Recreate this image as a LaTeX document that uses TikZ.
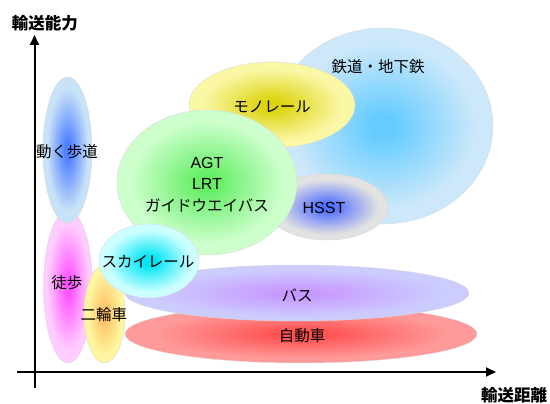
\documentclass[tikz,border=0pt]{standalone}
\usepackage{fontspec}
\setmainfont{Liberation Sans}
\newfontfamily\jp{Noto Sans CJK JP}
\usetikzlibrary{arrows.meta}
\colorlet{innerc}{white}
\colorlet{outerc}{white}
\pgfdeclareradialshading[innerc,outerc]{soft}{\pgfpoint{0bp}{0bp}}{color(0bp)=(innerc); color(3bp)=(innerc); color(11bp)=(innerc!55!outerc); color(21bp)=(outerc); color(50bp)=(outerc)}
\definecolor{railIn}{HTML}{66CCFF}\definecolor{railOut}{HTML}{CCE8FA}
\definecolor{monoIn}{HTML}{DCD410}\definecolor{monoOut}{HTML}{FAF7A5}
\definecolor{agtIn}{HTML}{66EE66}\definecolor{agtOut}{HTML}{CCFFCC}
\definecolor{hsstIn}{HTML}{5570FF}\definecolor{hsstOut}{HTML}{E2E2E2}
\definecolor{mwIn}{HTML}{5080FF}\definecolor{mwOut}{HTML}{C8E2F8}
\definecolor{walkIn}{HTML}{FF55FF}\definecolor{walkOut}{HTML}{FFCCFF}
\definecolor{bikeIn}{HTML}{FFC266}\definecolor{bikeOut}{HTML}{FFF5A0}
\definecolor{skyIn}{HTML}{00E5F5}\definecolor{skyOut}{HTML}{CCFFFF}
\definecolor{carIn}{HTML}{FF5050}\definecolor{carOut}{HTML}{FF9A9A}
\definecolor{busIn}{HTML}{C899FF}\definecolor{busOut}{HTML}{CCCCFF}
\begin{document}
\begin{tikzpicture}[x=1pt,y=-1pt,
  blob/.style 2 args={/utils/exec={\colorlet{innerc}{#1}\colorlet{outerc}{#2}},
    shading=soft, draw=gray!30, line width=0.4pt},
  jlab/.style={font=\jp\fontsize{15.5}{18}\selectfont, inner sep=0pt, text=black},
  llab/.style={font=\fontsize{16}{18}\selectfont, inner sep=0pt, text=black},
  axlab/.style={font=\jp\bfseries\fontsize{16.5}{19}\selectfont, inner sep=0pt},
  axis/.style={line width=2pt, -{Triangle[length=10pt,width=9pt]}}]
\useasboundingbox (0,0) rectangle (550,404);
% ellipses
\shadedraw[blob={railIn}{railOut}] (383,126) ellipse [x radius=110, y radius=98];
\shadedraw[blob={monoIn}{monoOut}] (272,105) ellipse [x radius=83, y radius=43];
\shadedraw[blob={hsstIn}{hsstOut}] (327,207) ellipse [x radius=61, y radius=33];
\shadedraw[blob={agtIn}{agtOut}] (207,182.5) ellipse [x radius=90, y radius=72.5];
\shadedraw[blob={walkIn}{walkOut}] (68,286.5) ellipse [x radius=24.5, y radius=76.5];
\shadedraw[blob={mwIn}{mwOut}] (67.5,150) ellipse [x radius=24.5, y radius=73];
\shadedraw[blob={bikeIn}{bikeOut}] (104.5,314) ellipse [x radius=20.5, y radius=49];
\shadedraw[blob={carIn}{carOut}] (301,334) ellipse [x radius=176, y radius=29];
\shadedraw[blob={busIn}{busOut}] (297,293) ellipse [x radius=172, y radius=28];
\shadedraw[blob={skyIn}{skyOut}] (149,261) ellipse [x radius=50, y radius=37];
% labels
\node[jlab] (rail) at (378,67) {鉄道・地下鉄};
\node[jlab] (mono) at (272,107) {モノレール};
\node[llab] (agt) at (207,163) {AGT};
\node[llab] (lrt) at (207,184) {LRT};
\node[jlab] (gbus) at (207,205) {ガイドウエイバス};
\node[llab] (hsst) at (324,208) {HSST};
\node[jlab] (mw) at (67,152) {動く歩道};
\node[jlab] (walk) at (67,283) {徒歩};
\node[jlab] (bike) at (104,315) {二輪車};
\node[jlab] (sky) at (148,262) {スカイレール};
\node[jlab] (bus) at (297,295) {バス};
\node[jlab] (car) at (302,336) {自動車};
% axes
\coordinate (yb) at (34.5,388);
\coordinate (yt) at (34.5,35);
\coordinate (xl) at (17,372);
\coordinate (xr) at (496,372);
\draw[axis] (yb) -- (yt);
\draw[axis] (xl) -- (xr);
\node[axlab] (ylab) at (45,23) {輸送能力};
\node[axlab] (xlab) at (514,395) {輸送距離};
\end{tikzpicture}
\end{document}
